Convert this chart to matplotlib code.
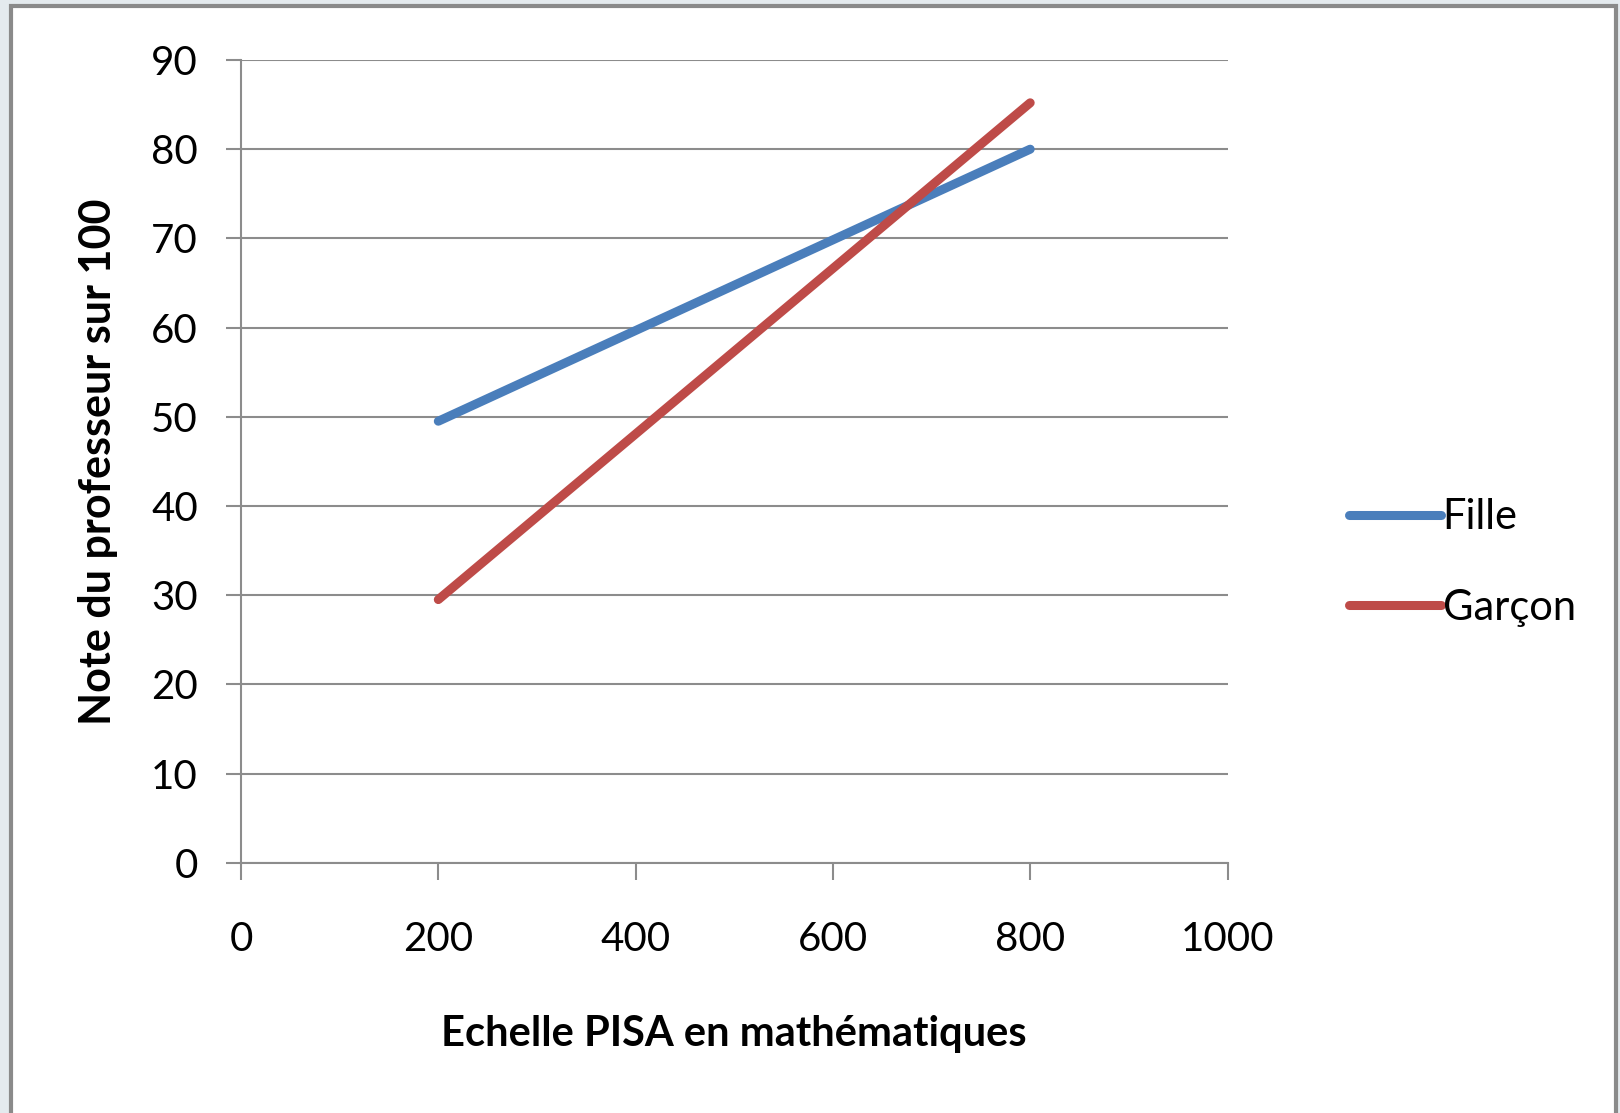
import matplotlib
matplotlib.use("Agg")
import matplotlib.pyplot as plt
from matplotlib.patches import Rectangle

# Data
x_fille = [200, 800]
y_fille = [49.5, 80.0]
x_garcon = [200, 800]
y_garcon = [29.5, 85.2]
series_names = ["Fille", "Garçon"]
x_ticks = [0, 200, 400, 600, 800, 1000]
y_ticks = [0, 10, 20, 30, 40, 50, 60, 70, 80, 90]

W, H = 1620, 1113
DPI = 100
plt.rcParams['font.family'] = ['Lato', 'DejaVu Sans']

fig = plt.figure(figsize=(W / DPI, H / DPI), dpi=DPI, facecolor='#e4eaee')

# background frame axes (white panel with gray border)
bg = fig.add_axes([0, 0, 1, 1], zorder=-5)
bg.set_xlim(0, W)
bg.set_ylim(H, 0)
bg.axis('off')
bg.add_patch(Rectangle((11, 6), 1616 - 11, H + 20, facecolor='white',
                       edgecolor='#8a8a8a', linewidth=3.0))

ax = fig.add_axes([241 / W, 250.3 / H, 986.5 / W, 802.7 / H], zorder=1)
ax.set_facecolor('none')

blue = '#4A7EBB'
red = '#BE4B48'
ax.plot(x_fille, y_fille, color=blue, lw=6.5, solid_capstyle='round', label=series_names[0], zorder=3)
ax.plot(x_garcon, y_garcon, color=red, lw=6.5, solid_capstyle='round', label=series_names[1], zorder=3)

ax.set_xlim(0, 1000)
ax.set_ylim(0, 90)
ax.set_xticks(x_ticks)
ax.set_yticks(y_ticks)
ax.yaxis.grid(True, color='#8c8c8c', lw=1.5)
ax.set_axisbelow(True)
for s in ['top', 'right']:
    ax.spines[s].set_visible(False)
for s in ['left', 'bottom']:
    ax.spines[s].set_color('#8c8c8c')
    ax.spines[s].set_linewidth(1.5)
ax.tick_params(axis='y', length=11, width=1.5, color='#8c8c8c', pad=20, labelsize=29)
ax.tick_params(axis='x', length=12, width=1.5, color='#8c8c8c', pad=30, labelsize=29)

ax.set_xlabel("Echelle PISA en mathématiques", fontsize=30, fontweight='bold', labelpad=41)
ax.set_ylabel("Note du professeur sur 100", fontsize=31, fontweight='bold', labelpad=24)

leg = ax.legend(loc='center left', bbox_to_anchor=(1.085, 0.374), frameon=False,
                fontsize=30, handlelength=2.2, handletextpad=0.05, labelspacing=1.25)

fig.savefig("out.png", dpi=DPI, facecolor=fig.get_facecolor())
